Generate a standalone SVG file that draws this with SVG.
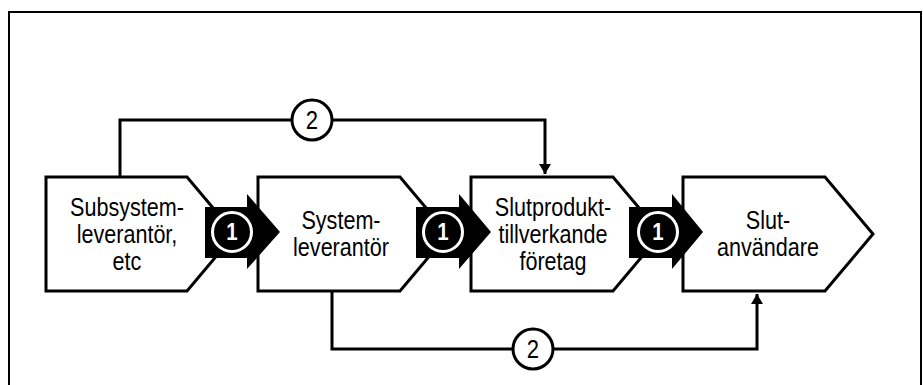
<svg xmlns="http://www.w3.org/2000/svg" width="923" height="385" viewBox="0 0 923 385">
<style>
.frame{fill:none;stroke:#000;stroke-width:2}
.box{fill:#fff;stroke:#000;stroke-width:3;stroke-linejoin:miter}
.conn{fill:none;stroke:#000;stroke-width:3}
.lbl{font-family:"Liberation Sans",Arial,sans-serif;font-size:26px;fill:#000;text-anchor:middle}
.arrow{fill:#000}
.num1{font-family:"Liberation Sans",Arial,sans-serif;font-size:24px;font-weight:bold;fill:#fff;text-anchor:middle}
.ring{fill:#000;stroke:#fff;stroke-width:3}
.c2{fill:#fff;stroke:#000;stroke-width:3}
.num2{font-family:"Liberation Sans",Arial,sans-serif;font-size:26px;fill:#000;text-anchor:middle}
</style>
<defs>
<marker id="ah" markerWidth="12" markerHeight="12" refX="10" refY="6" orient="auto" markerUnits="userSpaceOnUse">
<path d="M0,0 L10,6 L0,12 Z" fill="#000"/>
</marker>
</defs>
<rect class="frame" x="9" y="12" width="912" height="400"/>
<g id="connectors">
<polyline class="conn" points="120,177 120,120 545,120 545,174" marker-end="url(#ah)"/>
<polyline class="conn" points="332,291 332,349 757,349 757,294" marker-end="url(#ah)"/>
<g id="label-top"><circle class="c2" cx="312" cy="120" r="20"/><text class="num2" transform="translate(312,0) scale(0.85,1)" x="0" y="129">2</text></g>
<g id="label-bottom"><circle class="c2" cx="533" cy="349" r="20"/><text class="num2" transform="translate(533,0) scale(0.85,1)" x="0" y="358">2</text></g>
</g>
<g id="node-subsystem">
<path class="box" d="M46,177 H187 L235,234 L187,291 H46 Z"/>
<g transform="translate(127,0) scale(0.83,1)">
<text class="lbl" x="0" y="216">Subsystem-</text>
<text class="lbl" x="0" y="243">leverantör,</text>
<text class="lbl" x="0" y="270">etc</text>
</g>
</g>
<g id="node-system">
<path class="box" d="M258,177 H400 L448,234 L400,291 H258 Z"/>
<g transform="translate(341,0) scale(0.83,1)">
<text class="lbl" x="0" y="229">System-</text>
<text class="lbl" x="0" y="256">leverantör</text>
</g>
</g>
<g id="node-slutprodukt">
<path class="box" d="M471,177 H613 L661,234 L613,291 H471 Z"/>
<g transform="translate(553,0) scale(0.83,1)">
<text class="lbl" x="0" y="216">Slutprodukt-</text>
<text class="lbl" x="0" y="243">tillverkande</text>
<text class="lbl" x="0" y="270">företag</text>
</g>
</g>
<g id="node-slutanvandare">
<path class="box" d="M683,177 H825 L873,234 L825,291 H683 Z"/>
<g transform="translate(768,0) scale(0.83,1)">
<text class="lbl" x="0" y="229">Slut-</text>
<text class="lbl" x="0" y="256">användare</text>
</g>
</g>
<g id="flow-1a">
<path class="arrow" d="M205,207 H247 V194 L280,232 L247,269 V258 H205 Z"/>
<circle class="ring" cx="232" cy="232" r="19.5"/>
<text class="num1" transform="translate(232,0) scale(0.85,1)" x="0" y="240.5">1</text>
</g>
<g id="flow-1b">
<path class="arrow" d="M416,207 H459 V194 L491,232 L459,269 V258 H416 Z"/>
<circle class="ring" cx="443" cy="232" r="19.5"/>
<text class="num1" transform="translate(443,0) scale(0.85,1)" x="0" y="240.5">1</text>
</g>
<g id="flow-1c">
<path class="arrow" d="M629,207 H672 V194 L703,232 L672,269 V258 H629 Z"/>
<circle class="ring" cx="658" cy="232" r="19.5"/>
<text class="num1" transform="translate(658,0) scale(0.85,1)" x="0" y="240.5">1</text>
</g>
</svg>
